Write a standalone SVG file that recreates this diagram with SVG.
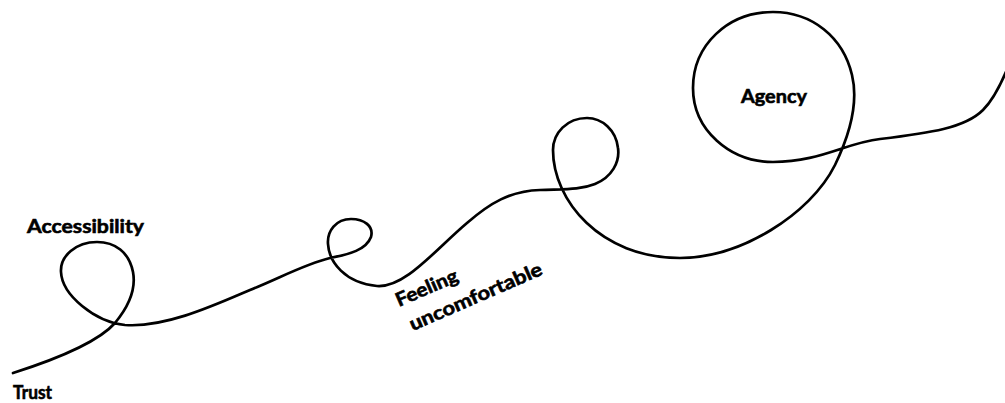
<svg xmlns="http://www.w3.org/2000/svg" width="1005" height="403" viewBox="0 0 1005 403">
<style>
.bg{fill:#ffffff}
.line{fill:none;stroke:#000000;stroke-width:2.7;stroke-linecap:round;stroke-linejoin:round}
.lbl{font-family:Lato,"Open Sans","Liberation Sans",sans-serif;font-weight:bold;font-size:19px;fill:#000000;stroke:#000000;stroke-width:0.6}
</style>
<rect class="bg" x="0" y="0" width="1005" height="403"/>
<g id="connectors">
<path class="line" d="M13,373 C60,358 100,340 115,323 C130,305 136,288 133,272 C129,252 115,242 97,242 C76,242 60,256 61,272 C62,295 95,322 125,325 C165,328 215,305 250,290 C280,278 305,264 330,258 C350,254 366,250 371,237 C374,226 364,219 351,219 C336,219 327,231 328,244 C329,262 345,283 377,286 C405,288 435,250 467,223 C490,203 510,191 540,190 C565,189 580,190 595,184 C612,177 620,162 618,148 C616,130 602,118 587,118 C567,118 553,133 553,150 C553,200 600,258 680,258 C740,258 810,215 835,165 C852,130 858,100 852,75 C843,37 812,12 773,12 C728,12 693,45 693,88 C693,130 730,162 773,162 C820,162 845,143 880,139 C930,133 965,128 983,110 C995,98 1003,80 1010,62"/>
</g>
<g id="node-trust"><text class="lbl" x="13" y="399" font-size="20" textLength="39" lengthAdjust="spacingAndGlyphs">Trust</text></g>
<g id="node-accessibility"><text class="lbl" x="27" y="233" textLength="117" lengthAdjust="spacingAndGlyphs">Accessibility</text></g>
<g id="node-feeling-uncomfortable"><text class="lbl" transform="translate(399,307) rotate(-23.5)"><tspan x="0" y="0" textLength="66" lengthAdjust="spacingAndGlyphs">Feeling</tspan><tspan x="3" y="27.5" textLength="143" lengthAdjust="spacingAndGlyphs">uncomfortable</tspan></text></g>
<g id="node-agency"><text class="lbl" x="741" y="103" textLength="66" lengthAdjust="spacingAndGlyphs">Agency</text></g>
</svg>
